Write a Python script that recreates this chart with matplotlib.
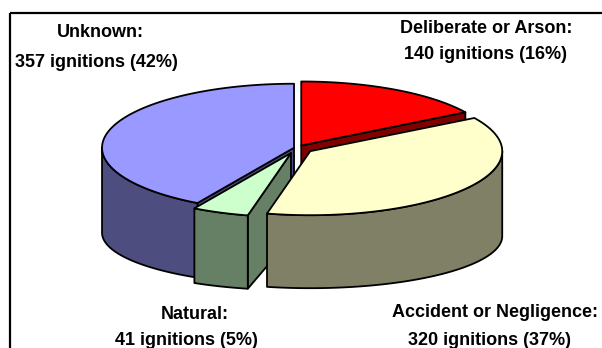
import numpy as np
import matplotlib
matplotlib.use("Agg")
import matplotlib.pyplot as plt
from matplotlib.patches import Polygon, Rectangle

# Ignition causes and counts
categories = ["Deliberate or Arson", "Accident or Negligence", "Natural", "Unknown"]
ignitions = [140, 320, 41, 357]

# Slice styling
top_colors = ["#FF0000", "#FFFFCC", "#CCFFCC", "#9999FF"]
explode = [0.045, 0.085, 0.085, 0.016]
draw_order = [0, 3, 2, 1]  # back to front

# Label anchor (x centre, baseline of first line) for each slice
label_pos = {
    0: (486, 33),
    1: (495, 317),
    2: (195, 319),
    3: (100, 37),
}
second_line_pos = {
    0: (485, 59),
    1: (490, 345),
    2: (186, 345),
    3: (96, 67),
}

fig = plt.figure(figsize=(6.02, 3.48), dpi=100)
ax = fig.add_axes([0, 0, 1, 1])
ax.set_xlim(0, 602)
ax.set_ylim(348, 0)
ax.axis("off")

# Outer frame (extends past the right and bottom edges)
ax.add_patch(Rectangle((10, 13), 800, 600, fill=False, ec="black", lw=1.6, zorder=0))

# 3-D pie geometry (screen units)
cx, cy = 297.0, 148.0
rx, ry = 192.0, 64.0
drop, ry_bot = 85.0, 52.0

total = float(sum(ignitions))
edges = np.concatenate([[0.0], np.cumsum(np.array(ignitions) / total) * 360.0])


def darker(hex_color, f=0.5):
    r, g, b = matplotlib.colors.to_rgb(hex_color)
    return (r * f, g * f, b * f)


def top_pt(a, th):
    t = np.radians(th)
    return (a[0] + rx * np.sin(t), a[1] - ry * np.cos(t))


def bot_pt(a, th):
    t = np.radians(th)
    return (a[0] + rx * np.sin(t), a[1] + drop - ry_bot * np.cos(t))


edge_kw = dict(ec="black", lw=1.3, joinstyle="round")
z = 1
for i in draw_order:
    t1, t2 = edges[i], edges[i + 1]
    mid = np.radians((t1 + t2) / 2)
    apex = (cx + explode[i] * rx * np.sin(mid), cy - explode[i] * ry * np.cos(mid))
    apex_b = (apex[0], apex[1] + drop)
    side = darker(top_colors[i])

    # radial cut faces facing the viewer
    if np.sin(np.radians(t1)) < -1e-6:
        quad = [apex, top_pt(apex, t1), bot_pt(apex, t1), apex_b]
        ax.add_patch(Polygon(quad, closed=True, fc=side, zorder=z, **edge_kw))
    if np.sin(np.radians(t2)) > 1e-6:
        quad = [apex, top_pt(apex, t2), bot_pt(apex, t2), apex_b]
        ax.add_patch(Polygon(quad, closed=True, fc=side, zorder=z, **edge_kw))

    # outer curved wall on the front half
    a, b = max(t1, 90.0), min(t2, 270.0)
    if a < b:
        ths = np.linspace(a, b, 120)
        upper = [top_pt(apex, t) for t in ths]
        lower = [bot_pt(apex, t) for t in ths[::-1]]
        ax.add_patch(Polygon(upper + lower, closed=True, fc=side, zorder=z, **edge_kw))

    # top face
    ths = np.linspace(t1, t2, 200)
    pts = [apex] + [top_pt(apex, t) for t in ths]
    ax.add_patch(Polygon(pts, closed=True, fc=top_colors[i], zorder=z, **edge_kw))
    z += 1

# Labels
txt_kw = dict(family="Liberation Sans", weight="bold", fontsize=13,
              ha="center", va="baseline", color="black", zorder=20)
for i, name in enumerate(categories):
    pct = round(ignitions[i] / total * 100)
    x1, y1 = label_pos[i]
    x2, y2 = second_line_pos[i]
    ax.text(x1, y1, f"{name}:", **txt_kw)
    ax.text(x2, y2, f"{ignitions[i]} ignitions ({pct}%)", **txt_kw)

fig.savefig("out.png", dpi=100)
